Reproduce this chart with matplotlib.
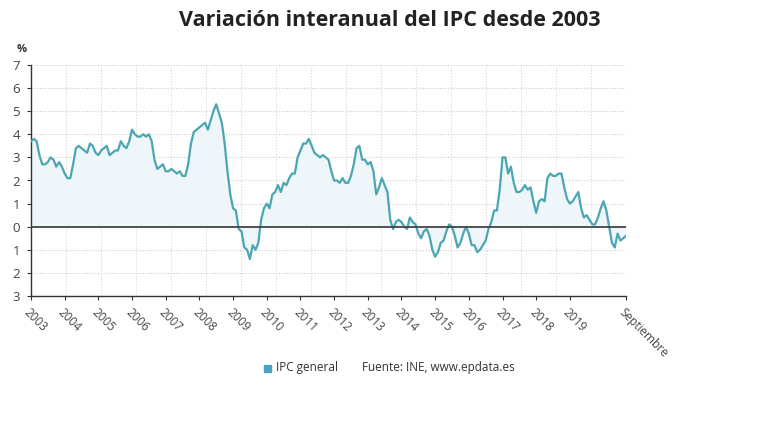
import numpy as np
import matplotlib
matplotlib.use("Agg")
import matplotlib.pyplot as plt

plt.rcParams['font.family'] = ['Open Sans', 'DejaVu Sans']

# Monthly year-on-year CPI (%), Jan 2003 - Sep 2020
ipc = [
    3.7, 3.8, 3.7, 3.1, 2.7, 2.7, 2.8, 3.0, 2.9, 2.6, 2.8, 2.6,   # 2003
    2.3, 2.1, 2.1, 2.7, 3.4, 3.5, 3.4, 3.3, 3.2, 3.6, 3.5, 3.2,   # 2004
    3.1, 3.3, 3.4, 3.5, 3.1, 3.2, 3.3, 3.3, 3.7, 3.5, 3.4, 3.7,   # 2005
    4.2, 4.0, 3.9, 3.9, 4.0, 3.9, 4.0, 3.7, 2.9, 2.5, 2.6, 2.7,   # 2006
    2.4, 2.4, 2.5, 2.4, 2.3, 2.4, 2.2, 2.2, 2.7, 3.6, 4.1, 4.2,   # 2007
    4.3, 4.4, 4.5, 4.2, 4.6, 5.0, 5.3, 4.9, 4.5, 3.6, 2.4, 1.4,   # 2008
    0.8, 0.7, -0.1, -0.2, -0.9, -1.0, -1.4, -0.8, -1.0, -0.7, 0.3, 0.8,  # 2009
    1.0, 0.8, 1.4, 1.5, 1.8, 1.5, 1.9, 1.8, 2.1, 2.3, 2.3, 3.0,   # 2010
    3.3, 3.6, 3.6, 3.8, 3.5, 3.2, 3.1, 3.0, 3.1, 3.0, 2.9, 2.4,   # 2011
    2.0, 2.0, 1.9, 2.1, 1.9, 1.9, 2.2, 2.7, 3.4, 3.5, 2.9, 2.9,   # 2012
    2.7, 2.8, 2.4, 1.4, 1.7, 2.1, 1.8, 1.5, 0.3, -0.1, 0.2, 0.3,  # 2013
    0.2, 0.0, -0.1, 0.4, 0.2, 0.1, -0.3, -0.5, -0.2, -0.1, -0.4, -1.0,  # 2014
    -1.3, -1.1, -0.7, -0.6, -0.2, 0.1, 0.0, -0.4, -0.9, -0.7, -0.3, 0.0,  # 2015
    -0.3, -0.8, -0.8, -1.1, -1.0, -0.8, -0.6, -0.1, 0.2, 0.7, 0.7, 1.6,  # 2016
    3.0, 3.0, 2.3, 2.6, 1.9, 1.5, 1.5, 1.6, 1.8, 1.6, 1.7, 1.1,   # 2017
    0.6, 1.1, 1.2, 1.1, 2.1, 2.3, 2.2, 2.2, 2.3, 2.3, 1.7, 1.2,   # 2018
    1.0, 1.1, 1.3, 1.5, 0.8, 0.4, 0.5, 0.3, 0.1, 0.1, 0.4, 0.8,   # 2019
    1.1, 0.7, 0.0, -0.7, -0.9, -0.3, -0.6, -0.5, -0.4,            # 2020
]
year_labels = [str(y) for y in range(2003, 2020)]
last_label = "Septiembre"
y_ticks = [-3, -2, -1, 0, 1, 2, 3, 4, 5, 6, 7]

title = "Variación interanual del IPC desde 2003"
legend_label = "IPC general"
source = "Fuente: INE, www.epdata.es"

line_color = "#4aa6b2"
fill_color = "#eef6f9"
tick_color = "#444444"

fig = plt.figure(figsize=(7.8, 4.4), dpi=100)
ax = fig.add_axes([31/780, 1-296/440, (626-31)/780, (296-65)/440])

x = np.arange(len(ipc))
y = np.array(ipc)
ax.fill_between(x, y, 0, color=fill_color, lw=0, zorder=1)
ax.plot(x, y, color=line_color, lw=1.6, zorder=3)
ax.axhline(0, color="#444444", lw=1.3, zorder=4)

n = len(ipc) - 1
ax.set_xlim(0, n)
ax.set_ylim(-3, 7)

# grid
for v in y_ticks[1:]:
    if v != 0:
        ax.axhline(v, color="#cccccc", lw=0.8, ls=(0, (1, 1.5)), zorder=0)
for k in range(1, 18):
    ax.axvline(k * n / 17, color="#d8d8d8", lw=0.8, ls=(0, (1, 1.5)), zorder=0)

ax.set_yticks(y_ticks)
ax.set_yticklabels([str(abs(v)) for v in y_ticks])
xt = [12 * i for i in range(len(year_labels))] + [n]
ax.set_xticks(xt)
ax.set_xticklabels(year_labels + [last_label], rotation=-45, ha='left', va='top',
                   rotation_mode='anchor')
ax.tick_params(axis='y', length=3, color="#333333", labelsize=9.5, labelcolor=tick_color, pad=5)
ax.tick_params(axis='x', length=3, color="#333333", labelsize=8.5, labelcolor=tick_color, pad=4)

for s in ['top', 'right']:
    ax.spines[s].set_visible(False)
ax.spines['left'].set_color("#333333")
ax.spines['left'].set_linewidth(1.0)
ax.spines['bottom'].set_color("#333333")
ax.spines['bottom'].set_linewidth(1.0)
ax.spines['bottom'].set_linestyle((0, (1, 1)))

fig.text(22/780, 1-50/440, "%", fontsize=8, color="#333333", ha='center', va='center', weight='bold')
fig.text(390/780, 1-20/440, title, fontsize=15.5, weight='bold', color="#222222",
         ha='center', va='center')

# legend
fig.patches.append(plt.Rectangle((264/780, 1-372/440), 7/780, 7/440, color="#4ba3c4",
                                 transform=fig.transFigure, figure=fig))
fig.text(276/780, 1-368/440, legend_label, fontsize=8.5, color="#333333", va='center')
fig.text(362/780, 1-368/440, source, fontsize=8.5, color="#333333", va='center')

fig.savefig("out.png", dpi=100)
